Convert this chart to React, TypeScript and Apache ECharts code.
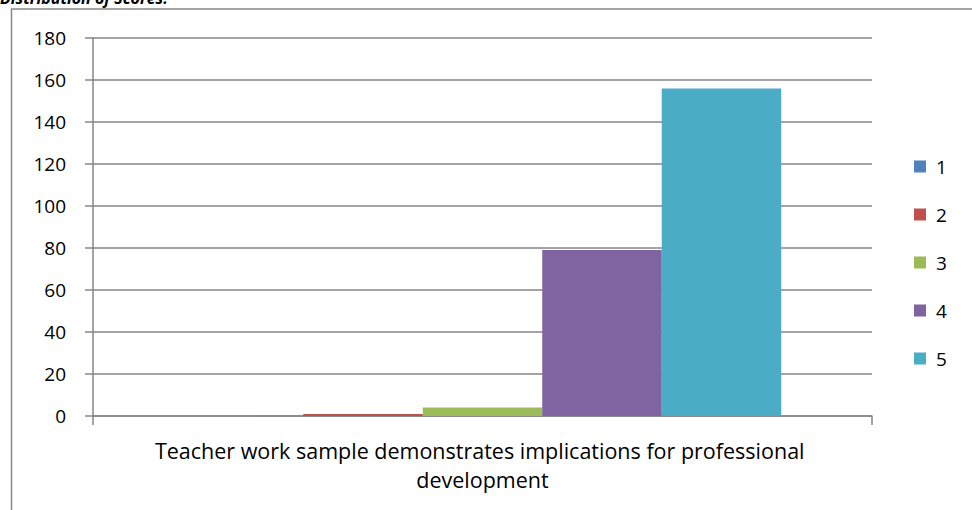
import React, { useEffect, useRef } from "react";
import * as echarts from "echarts";

const categories = ["Teacher work sample demonstrates implications for professional development"];
const seriesNames = ["1", "2", "3", "4", "5"];
const seriesValues = [[0], [1], [4], [79], [156]];
const colors = ["#4F81BD", "#C0504D", "#9BBB59", "#8064A2", "#4BACC6"];
const titleText = "Distribution of Scores:";

const FONT = "'Open Sans', 'Noto Sans', sans-serif";

export default function App() {
  const ref = useRef<HTMLDivElement>(null);
  useEffect(() => {
    document.body.style.margin = "0";
    const chart = echarts.init(ref.current!, null, { renderer: "svg" });
    chart.setOption({
      animation: false,
      backgroundColor: "#ffffff",
      textStyle: { fontFamily: FONT },
      grid: { left: 93, right: 100, top: 38, bottom: 94 },
      legend: {
        orient: "vertical",
        left: 909,
        top: 152,
        itemWidth: 12,
        itemHeight: 12,
        itemGap: 29,
        icon: "rect",
        textStyle: { fontSize: 19, color: "#000", fontFamily: FONT, padding: [0, 0, 0, 5] },
        data: seriesNames,
      },
      xAxis: {
        type: "category",
        data: categories,
        axisLine: { lineStyle: { color: "#868686", width: 1.5 } },
        axisTick: { show: true, length: 9, lineStyle: { color: "#868686", width: 1.5 } },
        axisLabel: {
          fontSize: 21.5,
          color: "#000",
          fontFamily: FONT,
          width: 700,
          overflow: "break",
          lineHeight: 29,
          margin: 20,
        },
      },
      yAxis: {
        type: "value",
        min: 0,
        max: 180,
        interval: 20,
        axisLine: { show: true, lineStyle: { color: "#868686", width: 1.5 } },
        axisTick: { show: true, length: 8, lineStyle: { color: "#868686", width: 1.5 } },
        splitLine: { lineStyle: { color: "#868686", width: 1.5 } },
        axisLabel: { fontSize: 19, color: "#000", fontFamily: FONT, margin: 27 },
      },
      series: seriesNames.map((n, i) => ({
        name: n,
        type: "bar",
        data: seriesValues[i],
        barGap: "0%",
        barCategoryGap: "23.3%",
        itemStyle: { color: colors[i] },
      })),
      graphic: [
        {
          type: "rect",
          shape: { x: 11.5, y: 9, width: 1000, height: 600 },
          style: { fill: "none", stroke: "#868686", lineWidth: 1.5 },
          silent: true,
          z: -1,
        },
        {
          type: "text",
          x: 0,
          y: 6,
          style: {
            text: titleText,
            fontSize: 16,
            fontWeight: "bold",
            fontStyle: "italic",
            fontFamily: FONT,
            fill: "#000",
            textVerticalAlign: "bottom",
          },
        },
      ],
    });
    return () => chart.dispose();
  }, []);
  return <div ref={ref} style={{ width: 972, height: 510 }} />;
}
